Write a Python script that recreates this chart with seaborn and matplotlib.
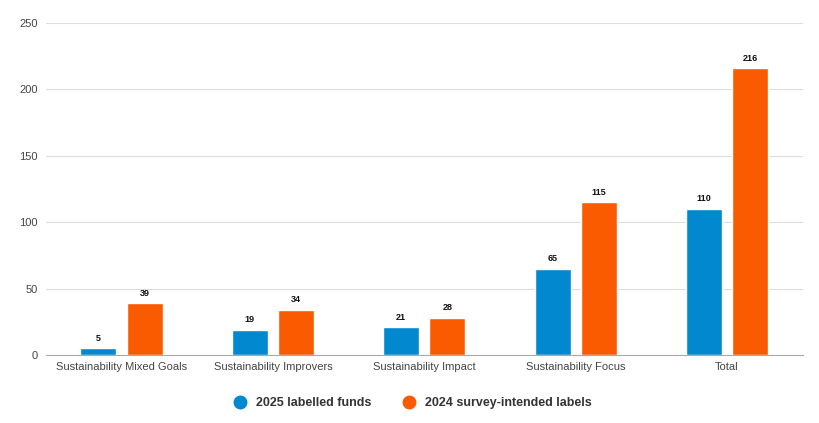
import matplotlib
matplotlib.use("Agg")
import matplotlib.pyplot as plt
import seaborn as sns
import pandas as pd
from matplotlib.lines import Line2D

categories = ["Sustainability Mixed Goals", "Sustainability Improvers", "Sustainability Impact", "Sustainability Focus", "Total"]
series_names = ["2025 labelled funds", "2024 survey-intended labels"]
funds_2025 = [5, 19, 21, 65, 110]
survey_2024 = [39, 34, 28, 115, 216]
y_ticks = [0, 50, 100, 150, 200, 250]
colors = ["#0288CF", "#FA5B00"]

df = pd.DataFrame({
    "category": categories * 2,
    "series": [series_names[0]] * len(categories) + [series_names[1]] * len(categories),
    "value": funds_2025 + survey_2024,
})

sns.set_theme(style="white")
plt.rcParams["font.family"] = ["Liberation Sans", "DejaVu Sans"]

fig = plt.figure(figsize=(8.19, 4.23), dpi=100)
ax = fig.add_axes([0.056, 0.1608, 0.924, 0.7848])

sns.barplot(data=df, x="category", y="value", hue="series", hue_order=series_names,
            palette=colors, width=0.61, gap=0.22, ax=ax, legend=False, saturation=1)

for cont in ax.containers:
    ax.bar_label(cont, labels=[f"{v:g}" for v in cont.datavalues], padding=4,
                 fontsize=6.5, fontweight="bold", color="#111111")

ax.set_ylim(0, 250)
ax.set_yticks(y_ticks)
ax.set_xlim(-0.5, len(categories) - 0.5)
ax.yaxis.grid(True, color="#dddddd", linewidth=0.8)
ax.set_axisbelow(True)
for s in ["top", "right", "left"]:
    ax.spines[s].set_visible(False)
ax.spines["bottom"].set_color("#aaaaaa")
ax.spines["bottom"].set_linewidth(0.8)
ax.tick_params(axis="both", length=0, labelsize=8, labelcolor="#444444")
ax.tick_params(axis="x", pad=5)
ax.tick_params(axis="y", pad=6)
ax.set_xlabel("")
ax.set_ylabel("")

handles = [Line2D([0], [0], marker="o", linestyle="", markersize=9,
                  markerfacecolor=c, markeredgecolor=c) for c in colors]
leg = fig.legend(handles, series_names, loc="center", bbox_to_anchor=(0.5, 0.047),
                 ncol=2, frameon=False, handletextpad=0.3, columnspacing=2.0,
                 prop={"size": 9, "weight": "bold"})
for t in leg.get_texts():
    t.set_color("#333333")

fig.savefig("out.png", dpi=100)
